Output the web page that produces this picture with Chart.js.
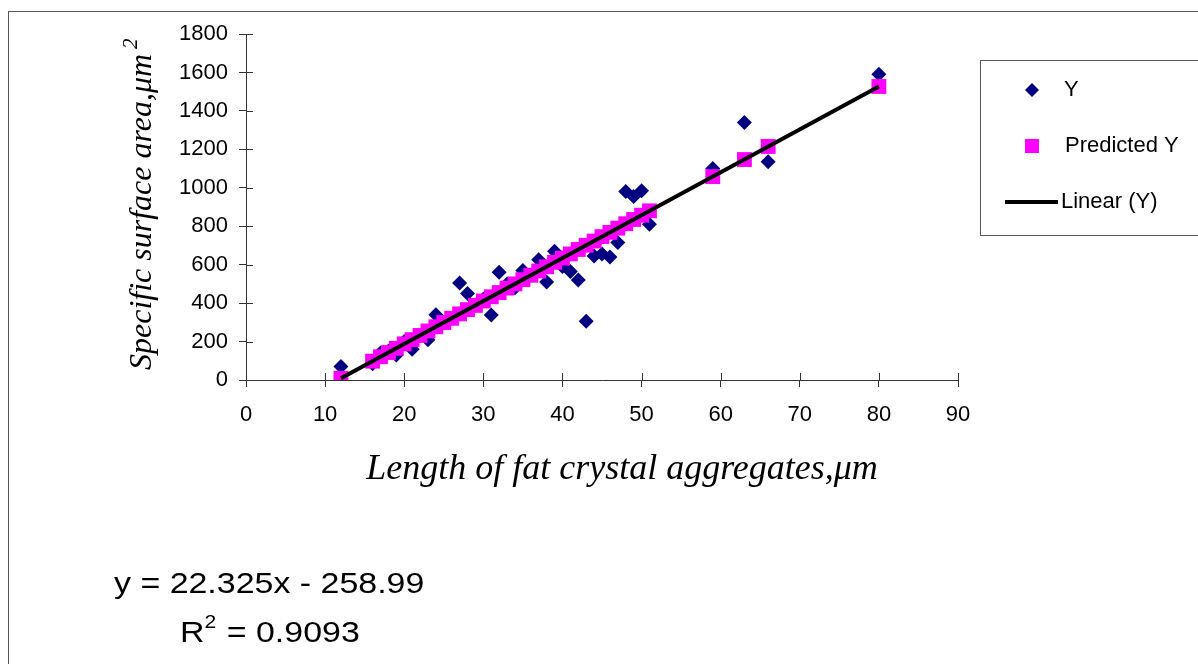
<!DOCTYPE html>
<html>
<head>
<meta charset="utf-8">
<script src="https://cdn.jsdelivr.net/npm/chart.js@4.4.1/dist/chart.umd.min.js"></script>
<style>
  html, body { margin: 0; padding: 0; background: #fff; }
  #wrap { width: 1198px; height: 664px; }
</style>
</head>
<body>
<div id="wrap"><canvas id="fatChart" width="1198" height="664"></canvas></div>
<script>
// values
const crystalLength = [12, 16, 17, 18, 19, 20, 21, 22, 23, 24, 25, 26, 27, 28, 29, 30, 31, 32, 33, 34,
    35, 36, 37, 38, 39, 40, 41, 42, 43, 44, 45, 46, 47, 48, 49, 50, 51, 59, 63, 66, 80];
const surfaceArea = [70, 85, 140, 150, 130, 200, 160, 230, 210, 340, 300, 320, 505, 450, 390, 420, 338, 560, 500, 480,
    570, 545, 625, 510, 670, 590, 565, 520, 305, 645, 655, 640, 715, 980, 955, 985, 810, 1100, 1340, 1135, 1590];
const predictedArea = [9, 98, 121, 143, 165, 188, 210, 232, 255, 277, 299, 321, 344, 366, 388, 411, 433, 455, 478, 500,
    522, 545, 567, 589, 612, 634, 656, 679, 701, 723, 746, 768, 790, 813, 835, 857, 880, 1058, 1147, 1215, 1527];
const trendX = [12, 80];
const trendY = [9, 1527];
const xTicks = [0, 10, 20, 30, 40, 50, 60, 70, 80, 90];
const yTicks = [0, 200, 400, 600, 800, 1000, 1200, 1400, 1600, 1800];
const seriesNames = ['Y', 'Predicted Y', 'Linear (Y)'];
const equationText = 'y = 22.325x - 258.99';
const r2Text = '= 0.9093';

const toPoints = (xs, ys) => xs.map((x, i) => ({ x: x, y: ys[i] }));

const navy = '#000080';
const magenta = '#ff00ff';
const axisColor = '#333333';
const sansFont = '"Liberation Sans", Arial, sans-serif';
const serifFont = '"Liberation Serif", "Times New Roman", serif';

// extra drawing: frame, inner tick marks, axis titles, legend box, equation
const decorPlugin = {
    id: 'decor',
    beforeDraw(chart) {
        const ctx = chart.ctx;
        ctx.save();
        ctx.fillStyle = '#fff';
        ctx.fillRect(0, 0, chart.width, chart.height);
        ctx.strokeStyle = '#555';
        ctx.lineWidth = 1;
        ctx.strokeRect(8.5, 11.5, 1300, 800);
        ctx.restore();
    },
    afterDraw(chart) {
        const ctx = chart.ctx;
        const xs = chart.scales.x;
        const ys = chart.scales.y;
        ctx.save();

        // ticks crossing into the plot area
        ctx.strokeStyle = axisColor;
        ctx.lineWidth = 1;
        ctx.beginPath();
        xTicks.forEach(v => {
            const px = Math.round(xs.getPixelForValue(v)) + 0.5;
            ctx.moveTo(px, ys.bottom);
            ctx.lineTo(px, ys.bottom - 7);
        });
        yTicks.forEach(v => {
            const py = Math.round(ys.getPixelForValue(v)) + 0.5;
            ctx.moveTo(xs.left, py);
            ctx.lineTo(xs.left + 7, py);
        });
        ctx.stroke();

        ctx.fillStyle = '#000';

        // y axis title
        ctx.save();
        ctx.translate(151, 370);
        ctx.rotate(-Math.PI / 2);
        ctx.font = 'italic 32px ' + serifFont;
        ctx.textAlign = 'left';
        ctx.textBaseline = 'alphabetic';
        const yTitle = 'Specific surface area,\u03bcm';
        ctx.fillText(yTitle, 0, 0);
        const w = ctx.measureText(yTitle).width;
        ctx.font = 'italic 21px ' + serifFont;
        ctx.fillText('2', w + 5, -14);
        ctx.restore();

        // x axis title
        ctx.font = 'italic 36px ' + serifFont;
        ctx.textAlign = 'center';
        ctx.textBaseline = 'alphabetic';
        ctx.fillText('Length of fat crystal aggregates,\u03bcm', 622, 479);

        // legend
        ctx.strokeStyle = '#555';
        ctx.lineWidth = 1;
        ctx.strokeRect(980.5, 60.5, 400, 175);
        ctx.fillStyle = navy;
        ctx.beginPath();
        ctx.moveTo(1032, 83);
        ctx.lineTo(1039, 90);
        ctx.lineTo(1032, 97);
        ctx.lineTo(1025, 90);
        ctx.closePath();
        ctx.fill();
        ctx.fillStyle = magenta;
        ctx.fillRect(1025, 139, 14, 14);
        ctx.strokeStyle = '#000';
        ctx.lineWidth = 4;
        ctx.beginPath();
        ctx.moveTo(1005, 202);
        ctx.lineTo(1058, 202);
        ctx.stroke();
        ctx.fillStyle = '#000';
        ctx.font = '22px ' + sansFont;
        ctx.textAlign = 'left';
        ctx.textBaseline = 'middle';
        ctx.fillText(seriesNames[0], 1064, 90);
        ctx.fillText(seriesNames[1], 1065, 146);
        ctx.fillText(seriesNames[2], 1061, 202);

        // regression equation (the original text is a little wide)
        ctx.textBaseline = 'alphabetic';
        ctx.save();
        ctx.translate(114, 0);
        ctx.scale(1.17, 1);
        ctx.font = '29px ' + sansFont;
        ctx.fillText(equationText, 0, 593);
        ctx.restore();

        ctx.save();
        ctx.translate(180, 0);
        ctx.scale(1.17, 1);
        ctx.font = '29px ' + sansFont;
        ctx.fillText('R', 0, 642);
        const rw = ctx.measureText('R').width;
        ctx.font = '18px ' + sansFont;
        ctx.fillText('2', rw, 628);
        const sw = ctx.measureText('2').width;
        ctx.font = '29px ' + sansFont;
        ctx.fillText(r2Text, rw + sw + 9, 642);
        ctx.restore();

        ctx.restore();
    }
};

const ctx = document.getElementById('fatChart').getContext('2d');
new Chart(ctx, {
    type: 'scatter',
    data: {
        datasets: [
            {
                label: seriesNames[2],
                type: 'line',
                data: toPoints(trendX, trendY),
                borderColor: '#000',
                borderWidth: 4,
                pointRadius: 0,
                fill: false,
                order: 0
            },
            {
                label: seriesNames[1],
                data: toPoints(crystalLength, predictedArea),
                pointStyle: 'rect',
                pointRadius: 10.5,
                backgroundColor: magenta,
                borderColor: magenta,
                borderWidth: 0,
                order: 1
            },
            {
                label: seriesNames[0],
                data: toPoints(crystalLength, surfaceArea),
                pointStyle: 'rectRot',
                pointRadius: 7.5,
                backgroundColor: navy,
                borderColor: navy,
                borderWidth: 0,
                order: 2
            }
        ]
    },
    options: {
        responsive: false,
        animation: false,
        layout: {
            padding: { left: 0, top: 34, right: 240, bottom: 224 }
        },
        plugins: {
            legend: { display: false },
            tooltip: { enabled: false }
        },
        scales: {
            x: {
                type: 'linear',
                min: 0,
                max: 90,
                afterFit: function(scale) { scale.height = 60; },
                afterBuildTicks: function(scale) { scale.ticks = xTicks.map(v => ({ value: v })); },
                ticks: {
                    color: '#000',
                    padding: 15,
                    maxRotation: 0,
                    callback: v => String(v),
                    font: { family: sansFont, size: 22 }
                },
                grid: {
                    display: true,
                    drawOnChartArea: false,
                    drawTicks: true,
                    tickLength: 7,
                    color: axisColor
                },
                border: { display: true, color: axisColor }
            },
            y: {
                type: 'linear',
                min: 0,
                max: 1800,
                afterFit: function(scale) { scale.width = 246; },
                afterBuildTicks: function(scale) { scale.ticks = yTicks.map(v => ({ value: v })); },
                ticks: {
                    color: '#000',
                    padding: 11,
                    callback: v => String(v),
                    font: { family: sansFont, size: 22 }
                },
                grid: {
                    display: true,
                    drawOnChartArea: false,
                    drawTicks: true,
                    tickLength: 7,
                    color: axisColor
                },
                border: { display: true, color: axisColor }
            }
        }
    },
    plugins: [decorPlugin]
});
</script>
</body>
</html>
